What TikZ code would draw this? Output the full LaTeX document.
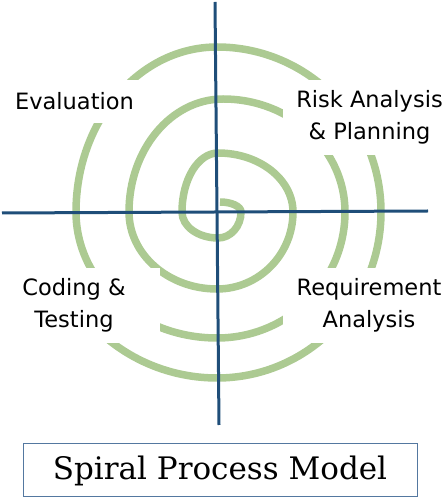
\documentclass[tikz,border=0pt]{standalone}
\usepackage{fontspec}
\setmainfont{DejaVu Sans}
\newfontfamily\titlefont{DejaVu Serif}
\definecolor{spiralgreen}{RGB}{172,202,146}
\definecolor{axisblue}{RGB}{31,78,121}
\definecolor{framegray}{RGB}{84,120,160}
\tikzstyle{every node}=[inner sep=0pt]
\tikzstyle{spiral}=[draw=spiralgreen,line width=7.5pt]
\tikzstyle{axis}=[draw=axisblue,line width=3pt]
\tikzstyle{phase}=[fill=white,align=center,font=\fontsize{22.5}{32}\selectfont]
\tikzstyle{caption}=[draw=framegray,line width=1pt,fill=white,font=\titlefont\fontsize{31}{36}\selectfont]

\begin{document}
\begin{tikzpicture}[x=1pt,y=1pt]
	\useasboundingbox (0,0) rectangle (446,498);
	
	% spiral, quarter by quarter
	\draw[spiral] (220,296)
	  arc[start angle=90,end angle=0,x radius=21,y radius=10]
	  arc[start angle=0,end angle=-90,x radius=23,y radius=26]
	  arc[start angle=-90,end angle=-180,x radius=36,y radius=26]
	  arc[start angle=180,end angle=90,x radius=36,y radius=59]
	  arc[start angle=90,end angle=0,x radius=75,y radius=59]
	  arc[start angle=0,end angle=-90,x radius=76,y radius=77]
	  arc[start angle=-90,end angle=-180,x radius=88,y radius=77]
	  arc[start angle=180,end angle=90,x radius=94,y radius=113]
	  arc[start angle=90,end angle=0,x radius=122,y radius=113]
	  arc[start angle=0,end angle=-90,x radius=128,y radius=126]
	  arc[start angle=-90,end angle=-180,x radius=141,y radius=126]
	  arc[start angle=180,end angle=90,x radius=141,y radius=165]
	  arc[start angle=90,end angle=0,x radius=164,y radius=165]
	  arc[start angle=0,end angle=-90,x radius=164,y radius=166]
	  arc[start angle=-90,end angle=-145,x radius=170,y radius=166];
	
	\node[phase,minimum width=131pt,minimum height=43pt] (evaluation) at (74.5,396.5) {Evaluation};
	\node[phase,minimum width=173pt,minimum height=75pt] (risk) at (369.5,380.5) {Risk Analysis\\\& Planning};
	\node[phase,minimum width=172pt,minimum height=75pt] (coding) at (74,192.5) {Coding \&\\Testing};
	\node[phase,minimum width=172pt,minimum height=75pt] (requirement) at (369,192.5) {Requirement\\Analysis};
	
	% axes
	\coordinate (west) at (2,285);
	\coordinate (east) at (428,287);
	\coordinate (north) at (215,496);
	\coordinate (south) at (219,73);
	\draw[axis] (west) -- (east);
	\draw[axis] (north) -- (south);
	
	\node[caption,minimum width=394pt,minimum height=53pt] (title) at (220,27.5) {Spiral Process Model};
\end{tikzpicture}
\end{document}
